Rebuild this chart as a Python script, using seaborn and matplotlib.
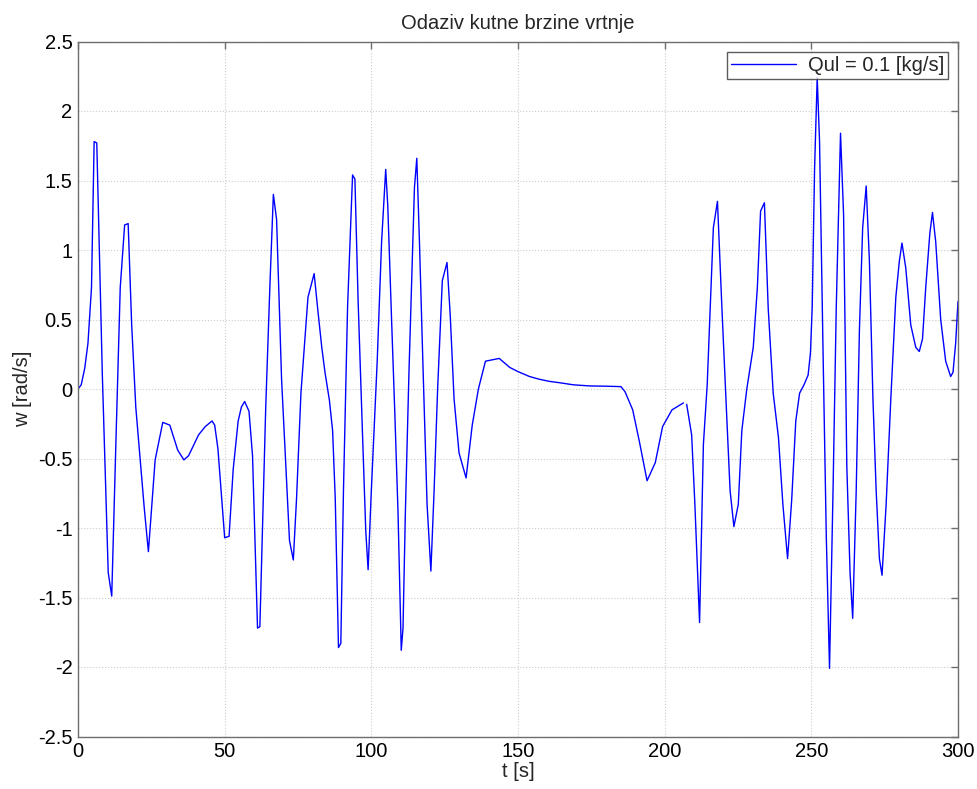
import matplotlib
matplotlib.use("Agg")
import matplotlib.pyplot as plt
import seaborn as sns
import pandas as pd
import numpy as np

t_a = [0, 1.1, 2.3, 3.4, 4.6, 5.5, 6.4, 8.3, 10.3, 11.5, 12.9, 14.4, 15.9, 17.1, 18.3, 19.7,
       22.6, 24.0, 26.3, 28.9, 31.3, 34.0, 36.1, 37.7, 41.1, 43.4, 45.7, 46.6, 47.7, 50.0,
       51.5, 52.9, 54.6, 55.7, 56.8, 58.3, 59.5, 61.2, 62.0, 64.0, 65.4, 66.6, 67.7, 69.4,
       70.8, 72.1, 73.4, 74.5, 76.0, 78.4, 80.5, 81.8, 83.1, 84.2, 85.7, 86.8, 87.7, 88.8,
       89.6, 90.5, 91.9, 93.6, 94.4, 95.5, 97.0, 98.1, 98.9, 100.0, 102.0, 103.5, 104.9,
       105.6, 106.9, 108.0, 109.1, 110.2, 110.8, 111.6, 112.8, 114.7, 115.5, 116.4, 117.6,
       119.0, 120.3, 121.4, 122.6, 124.2, 125.8, 126.9, 128.2, 129.9, 132.3, 134.4, 136.5,
       138.9, 143.6, 147.2, 150.0, 153.9, 157.3, 160.7, 164.2, 168.9, 174.5, 180.2, 185.1,
       186.5, 189.1, 191.4, 194.0, 196.8, 199.3, 202.5, 206.4]
w_a = [0, 0.03, 0.15, 0.33, 0.73, 1.78, 1.77, 0.10, -1.32, -1.49, -0.40, 0.73, 1.18, 1.19, 0.46, -0.13,
       -0.86, -1.17, -0.51, -0.24, -0.26, -0.44, -0.51, -0.48, -0.33, -0.27, -0.23, -0.26, -0.43, -1.07,
       -1.06, -0.58, -0.23, -0.13, -0.09, -0.16, -0.48, -1.72, -1.71, -0.13, 0.73, 1.40, 1.22, 0.07,
       -0.53, -1.09, -1.23, -0.79, -0.03, 0.66, 0.83, 0.56, 0.30, 0.12, -0.08, -0.30, -0.79, -1.86,
       -1.83, -0.73, 0.59, 1.54, 1.51, 0.63, -0.33, -1.02, -1.30, -0.73, 0.20, 1.06, 1.58,
       1.32, 0.50, -0.17, -0.89, -1.88, -1.72, -0.89, 0.10, 1.45, 1.66, 1.06, 0.17,
       -0.83, -1.31, -0.73, 0.0, 0.78, 0.91, 0.53, -0.07, -0.46, -0.64, -0.26, 0.0,
       0.20, 0.22, 0.155, 0.125, 0.09, 0.07, 0.055, 0.045, 0.03, 0.022, 0.02, 0.017,
       -0.02, -0.15, -0.38, -0.66, -0.53, -0.27, -0.15, -0.10]

t_b = [207.5, 209.2, 210.3, 211.9, 213.2, 214.5, 216.6, 218.0, 219.5, 221.1, 222.3, 223.6,
       225.1, 226.3, 228.0, 230.2, 231.6, 232.7, 234.0, 235.3, 237.0, 238.8, 240.3, 241.9,
       243.3, 244.7, 246.0, 247.5, 248.9, 249.7, 250.3, 251.1, 252.0, 252.8, 254.0, 255.1,
       256.2, 257.4, 258.5, 259.95, 261.0, 262.1, 263.2, 264.1, 265.3, 266.4, 267.5, 268.7,
       269.8, 271.0, 272.1, 273.2, 274.1, 275.5, 277.1, 278.8, 280.0, 280.9, 282.2, 283.9,
       285.6, 286.8, 287.9, 289.0, 290.4, 291.3, 292.4, 294.1, 295.8, 297.5, 298.3, 299.2, 300.0]
w_b = [-0.11, -0.33, -0.83, -1.68, -0.40, 0.03, 1.16, 1.35, 0.59, -0.17, -0.73, -0.99,
       -0.83, -0.30, 0.0, 0.30, 0.73, 1.28, 1.34, 0.58, -0.03, -0.35, -0.83, -1.22,
       -0.80, -0.23, -0.03, 0.03, 0.10, 0.26, 0.59, 1.58, 2.24, 1.78, 0.26, -1.06,
       -2.01, -0.73, 0.59, 1.84, 1.25, -0.56, -1.32, -1.65, -0.73, 0.43, 1.16, 1.46,
       0.92, -0.07, -0.73, -1.22, -1.34, -0.83, -0.07, 0.66, 0.92, 1.05, 0.87, 0.46,
       0.30, 0.27, 0.36, 0.73, 1.12, 1.27, 1.06, 0.50, 0.20, 0.09, 0.12, 0.33, 0.63]

xticks = [0, 50, 100, 150, 200, 250, 300]
yticks = [-2.5, -2, -1.5, -1, -0.5, 0, 0.5, 1, 1.5, 2, 2.5]
ytick_labels = ["-2.5", "-2", "-1.5", "-1", "-0.5", "0", "0.5", "1", "1.5", "2", "2.5"]

sns.set_theme(style="white")
plt.rcParams['font.family'] = ['Liberation Sans', 'DejaVu Sans']

FS = 14.5
fig = plt.figure(figsize=(9.78, 7.89), dpi=100)
ax = fig.add_axes([78/978, 1-736.5/789, 880/978, 695/789])

df_a = pd.DataFrame({"t": t_a, "w": w_a})
df_b = pd.DataFrame({"t": t_b, "w": w_b})
sns.lineplot(data=df_a, x="t", y="w", ax=ax, color=(0, 0, 1), linewidth=1.0,
             label="Qul = 0.1 [kg/s]", sort=False)
sns.lineplot(data=df_b, x="t", y="w", ax=ax, color=(0, 0, 1), linewidth=1.0, sort=False)

ax.set_xlim(0, 300)
ax.set_ylim(-2.5, 2.5)
ax.set_xticks(xticks)
ax.set_xticklabels([str(x) for x in xticks])
ax.set_yticks(yticks)
ax.set_yticklabels(ytick_labels)
ax.grid(True, color="#cccccc", linestyle=":", linewidth=0.8)
for s in ax.spines.values():
    s.set_color("#6e6e6e")
    s.set_linewidth(1.0)
    s.set_visible(True)
ax.tick_params(direction="in", length=5, width=1, color="#6e6e6e", top=True, right=True,
               labelsize=FS, labelcolor="black", pad=4)
ax.set_title("Odaziv kutne brzine vrtnje", fontsize=FS, pad=9)
ax.set_xlabel("t [s]", fontsize=FS, labelpad=1)
ax.set_ylabel("w [rad/s]", fontsize=FS, labelpad=4)

leg = ax.legend(loc="upper right", fontsize=FS, frameon=True, fancybox=False,
                borderaxespad=0.5, handlelength=3.2, borderpad=0.2, handletextpad=0.6)
leg.get_frame().set_edgecolor("#333333")
leg.get_frame().set_linewidth(1.0)

fig.savefig("out.png", dpi=100, facecolor="white")
